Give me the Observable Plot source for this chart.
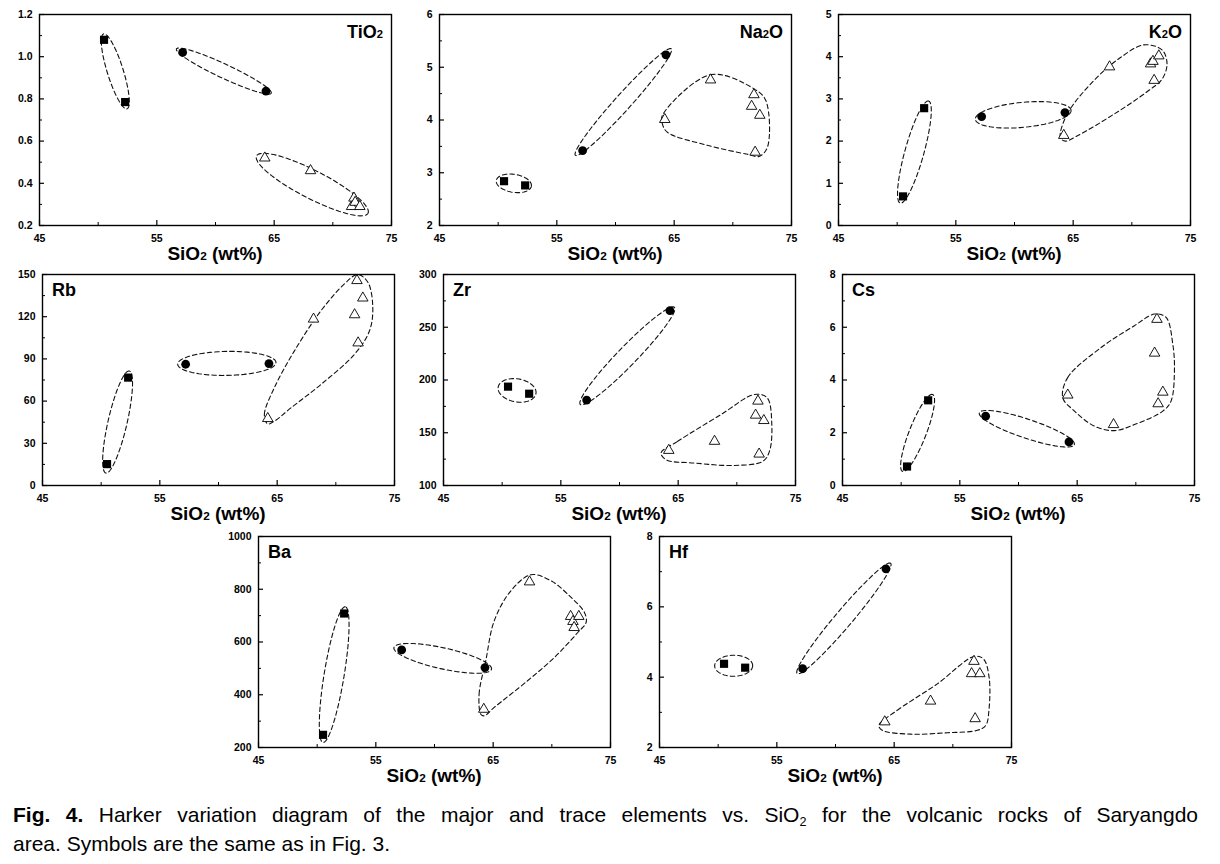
<!DOCTYPE html>
<html><head><meta charset="utf-8">
<script src="https://cdn.jsdelivr.net/npm/d3@7"></script>
<script src="https://cdn.jsdelivr.net/npm/@observablehq/plot@0.6"></script>
<style>
body{margin:0;background:#fff;}
#wrap{position:relative;width:1220px;height:864px;overflow:hidden;font-family:"Liberation Sans",Arial,Helvetica,sans-serif;color:#000;}
.panel{position:absolute;}
.xt{position:absolute;font-weight:bold;font-size:19px;line-height:19px;white-space:nowrap;transform:translateX(-50%);}
.el{position:absolute;font-weight:bold;font-size:18px;line-height:18px;white-space:nowrap;}
.sub{font-size:0.62em;vertical-align:-0.04em;}
.cap{position:absolute;left:13px;width:1185px;font-size:21px;line-height:29px;}
.cap .l1{text-align:justify;text-align-last:justify;}
.cap sub{font-size:0.6em;vertical-align:-0.3em;line-height:0;}
</style></head><body><div id="wrap"></div>
<script>
// ---- sample SiO2 (wt%) per symbol group ----
const sio2Squares = [50.5, 52.3];
const sio2Circles = [57.2, 64.3];
const sio2Triangles = [64.2, 68.1, 71.6, 71.8, 71.9, 72.3];

// ---- element values (same sample order as above) ----
const tio2Sq = [1.08, 0.785], tio2Ci = [1.02, 0.837], tio2Tr = [0.52, 0.46, 0.29, 0.33, 0.31, 0.29];
const na2oSq = [2.84, 2.76], na2oCi = [3.42, 5.235], na2oTr = [4.01, 4.76, 4.26, 4.48, 3.39, 4.09];
const k2oSq = [0.69, 2.78], k2oCi = [2.58, 2.675], k2oTr = [2.135, 3.76, 3.83, 3.89, 3.44, 4.02];
const rbSq = [15.2, 76.7], rbCi = [86.2, 86.7], rbTr = [47.6, 118.3, 121.4, 145.7, 101.4, 133.3];
const zrSq = [193.7, 187], zrCi = [181, 265.7], zrTr = [133.3, 141.9, 166.7, 180, 129.8, 161.6];
const csSq = [0.72, 3.23], csCi = [2.63, 1.65], csTr = [3.43, 2.31, 5.02, 6.30, 3.10, 3.54];
const baSq = [248, 708], baCi = [570, 503], baTr = [345, 828, 697, 678, 655, 697];
const hfSq = [4.38, 4.27], hfCi = [4.24, 7.08], hfTr = [2.73, 3.32, 4.10, 4.45, 2.82, 4.10];

// ---- axis ticks ----
const xTicks = [45, 55, 65, 75];
const xMinor = [50, 60, 70];
const tio2Ticks = [0.2, 0.4, 0.6, 0.8, 1.0, 1.2], tio2Minor = [0.3, 0.5, 0.7, 0.9, 1.1];
const na2oTicks = [2, 3, 4, 5, 6], na2oMinor = [2.5, 3.5, 4.5, 5.5];
const k2oTicks = [0, 1, 2, 3, 4, 5], k2oMinor = [0.5, 1.5, 2.5, 3.5, 4.5];
const rbTicks = [0, 30, 60, 90, 120, 150], rbMinor = [15, 45, 75, 105, 135];
const zrTicks = [100, 150, 200, 250, 300], zrMinor = [125, 175, 225, 275];
const csTicks = [0, 2, 4, 6, 8], csMinor = [1, 3, 5, 7];
const baTicks = [200, 400, 600, 800, 1000], baMinor = [300, 500, 700, 900];
const hfTicks = [2, 4, 6, 8], hfMinor = [3, 5, 7];

// ---- dashed group envelopes (data coordinates) ----
// ellipses: [tipX1, tipY1, tipX2, tipY2, halfWidth]
const tio2Ell = [[50.46,1.108,52.46,0.753,8],[56.67,1.037,64.75,0.827,7],[63.5,0.53,73.0,0.258,14]];
const na2oEll = [[49.84,2.853,52.83,2.746,9],[56.58,3.33,64.75,5.35,8]];
const k2oEll = [[50.26,0.53,52.68,2.95,9.5],[56.66,2.516,64.82,2.73,12.5]];
const rbEll = [[50.4,8.8,52.4,81.4,9.5],[56.52,86.2,64.9,87.4,12]];
const zrEll = [[49.66,193.3,52.88,187,11.5],[56.66,176.8,64.68,268.9,9.5]];
const csEll = [[50.12,0.533,52.68,3.45,8.5],[56.66,2.756,64.76,1.55,9.5]];
const baEll = [[50.5,219,52.4,733.5,10],[56.54,579,64.86,497,10.5]];
const hfEll = [[49.7,4.32,52.94,4.33,10.5],[56.73,4.1,64.7,7.24,8.5]];
// free outlines: [x, y] control points
const na2oHullX = [63.99,68.11,71.81,72.81,72.95,72.24,71.24,67.83,64.41,63.99];
const na2oHullY = [4.085,4.86,4.59,4.37,3.485,3.31,3.35,3.52,3.77,3.93];
const k2oHullX = [63.91,64.48,66.75,69.03,71.02,72.58,73.0,72.58,71.3,68.46,65.33,64.34];
const k2oHullY = [2.08,2.635,3.43,3.98,4.28,4.16,3.83,3.47,3.17,2.635,2.12,2.0];
const rbHullX = [64.19,63.91,64.76,66.47,68.74,70.73,71.87,72.73,73.15,72.87,71.59,68.74,66.18,64.76];
const rbHullY = [43.8,50.5,69.5,95.7,124.3,143.3,150,144.5,126.7,110,93.3,71.9,55.2,45.7];
const zrHullX = [63.54,64.96,68.66,71.5,72.58,72.98,72.78,72.21,69.8,66.38,63.97];
const zrHullY = [130.8,141.9,167.3,186.3,183.2,157.8,132.4,122.9,119,121.3,124.4];
const csHullX = [63.77,64.19,67.04,69.88,71.59,72.58,73.15,73.29,73.0,72.3,69.88,68.17,66.47,64.62];
const csHullY = [3.33,4.09,5.23,6.06,6.50,6.37,5.36,4.34,3.2,2.82,2.31,2.08,2.25,2.88];
const baHullX = [63.95,63.8,64.37,65.09,66.51,68.22,69.93,71.64,72.78,72.92,72.21,70.21,67.93,65.09,64.23];
const baHullY = [326,402,529,680,794,855,832,769,712,674,636,541,453,352,320];
const hfHullX = [63.7,65.27,68.68,71.81,72.61,73.09,73.09,72.81,72.1,69.53,66.4,63.98];
const hfHullY = [2.63,3.06,3.81,4.59,4.52,4.0,3.11,2.63,2.49,2.42,2.38,2.49];

const W = 352, H = 211, ML = 40, MT = 14;
const FONT = "Liberation Sans, Arial, Helvetica, sans-serif";

function ellipsePts(e, yDom, id) {
  const [x1, y1, x2, y2, b] = e;
  const px = x => (x - 45) / 30 * W, py = y => (y - yDom[0]) / (yDom[1] - yDom[0]) * H;
  const ix = p => 45 + p / W * 30, iy = p => yDom[0] + p / H * (yDom[1] - yDom[0]);
  const ax = px(x1), ay = py(y1), bx = px(x2), by = py(y2);
  const cx = (ax + bx) / 2, cy = (ay + by) / 2;
  const a = Math.hypot(bx - ax, by - ay) / 2;
  const ux = (bx - ax) / (2 * a), uy = (by - ay) / (2 * a);
  const vx = -uy, vy = ux;
  const out = [];
  for (let i = 0; i < 72; i++) {
    const t = i / 72 * 2 * Math.PI;
    const X = cx + a * Math.cos(t) * ux + b * Math.sin(t) * vx;
    const Y = cy + a * Math.cos(t) * uy + b * Math.sin(t) * vy;
    out.push({x: ix(X), y: iy(Y), id});
  }
  return out;
}

function panel(c) {
  const pts = (xs, ys) => xs.map((x, i) => ({x, y: ys[i]}));
  const ell = c.ell.flatMap((e, i) => ellipsePts(e, c.yDom, "e" + i));
  const hull = c.hullX ? c.hullX.map((x, i) => ({x, y: c.hullY[i], id: "h"})) : [];
  const fmt = c.fmt || (d => String(d));
  const dash = {stroke: "#111", strokeWidth: 1.1, strokeDasharray: "4.5,3", clip: true};
  return Plot.plot({
    width: W + ML + 8, height: H + MT + 45,
    marginLeft: ML, marginRight: 8, marginTop: MT, marginBottom: 45,
    x: {domain: [45, 75]}, y: {domain: c.yDom},
    style: {fontFamily: FONT, background: "transparent", overflow: "visible", color: "black"},
    marks: [
      Plot.line(ell, {x: "x", y: "y", z: "id", curve: "linear-closed", ...dash}),
      Plot.line(hull, {x: "x", y: "y", z: "id", curve: "catmull-rom-closed", ...dash}),
      Plot.dot(pts(sio2Squares, c.sq), {x: "x", y: "y", symbol: "square", r: 4.6, fill: "black"}),
      Plot.dot(pts(sio2Circles, c.ci), {x: "x", y: "y", symbol: "circle", r: 4.4, fill: "black"}),
      Plot.dot(pts(sio2Triangles, c.tr), {x: "x", y: "y", symbol: "triangle", r: 3.9, fill: "white", stroke: "black", strokeWidth: 0.9}),
      Plot.axisX(xTicks, {tickSize: -5, tickFormat: () => "", label: null, strokeWidth: 1.2}),
      Plot.axisX(xMinor, {tickSize: -3, tickFormat: () => "", label: null, strokeWidth: 1}),
      Plot.axisX(xTicks, {tickSize: 0, tickPadding: 9, fontSize: 10.5, fontWeight: "bold", label: null}),
      Plot.axisY(c.ticks, {tickSize: -5, tickFormat: () => "", label: null, strokeWidth: 1.2}),
      Plot.axisY(c.minor, {tickSize: -3, tickFormat: () => "", label: null, strokeWidth: 1}),
      Plot.axisY(c.ticks, {tickSize: 0, tickPadding: 7, tickFormat: fmt, fontSize: 10.5, fontWeight: "bold", label: null}),
      Plot.frame({stroke: "black", strokeWidth: 1.4})
    ]
  });
}

const f1 = d3.format(".1f");
const panels = [
  {name: "TiO<span class='sub'>2</span>", right: true, fx: 39, fy: 14, yDom: [0.2, 1.2], ticks: tio2Ticks, minor: tio2Minor, fmt: f1, sq: tio2Sq, ci: tio2Ci, tr: tio2Tr, ell: tio2Ell},
  {name: "Na<span class='sub'>2</span>O", right: true, fx: 439, fy: 14, yDom: [2, 6], ticks: na2oTicks, minor: na2oMinor, sq: na2oSq, ci: na2oCi, tr: na2oTr, ell: na2oEll, hullX: na2oHullX, hullY: na2oHullY},
  {name: "K<span class='sub'>2</span>O", right: true, fx: 838, fy: 14, yDom: [0, 5], ticks: k2oTicks, minor: k2oMinor, sq: k2oSq, ci: k2oCi, tr: k2oTr, ell: k2oEll, hullX: k2oHullX, hullY: k2oHullY},
  {name: "Rb", fx: 42, fy: 274, yDom: [0, 150], ticks: rbTicks, minor: rbMinor, sq: rbSq, ci: rbCi, tr: rbTr, ell: rbEll, hullX: rbHullX, hullY: rbHullY},
  {name: "Zr", fx: 443, fy: 274, yDom: [100, 300], ticks: zrTicks, minor: zrMinor, sq: zrSq, ci: zrCi, tr: zrTr, ell: zrEll, hullX: zrHullX, hullY: zrHullY},
  {name: "Cs", fx: 842, fy: 274, yDom: [0, 8], ticks: csTicks, minor: csMinor, sq: csSq, ci: csCi, tr: csTr, ell: csEll, hullX: csHullX, hullY: csHullY},
  {name: "Ba", fx: 258, fy: 536, yDom: [200, 1000], ticks: baTicks, minor: baMinor, sq: baSq, ci: baCi, tr: baTr, ell: baEll, hullX: baHullX, hullY: baHullY},
  {name: "Hf", fx: 659, fy: 536, yDom: [2, 8], ticks: hfTicks, minor: hfMinor, sq: hfSq, ci: hfCi, tr: hfTr, ell: hfEll, hullX: hfHullX, hullY: hfHullY}
];

const wrap = document.getElementById("wrap");
for (const c of panels) {
  const svg = panel(c);
  const d = document.createElement("div");
  d.className = "panel";
  d.style.left = (c.fx - ML) + "px";
  d.style.top = (c.fy - MT) + "px";
  d.appendChild(svg);
  wrap.appendChild(d);
  const xt = document.createElement("div");
  xt.className = "xt";
  xt.innerHTML = "SiO<span class='sub'>2</span> (wt%)";
  xt.style.left = (c.fx + W / 2) + "px";
  xt.style.top = (c.fy + H + 19) + "px";
  wrap.appendChild(xt);
  const el = document.createElement("div");
  el.className = "el";
  el.innerHTML = c.name;
  if (c.right) {
    el.style.left = (c.fx + W - 8) + "px";
    el.style.transform = "translateX(-100%)";
    el.style.top = (c.fy + 9) + "px";
  } else {
    el.style.left = (c.fx + 10) + "px";
    el.style.top = (c.fy + 7) + "px";
  }
  wrap.appendChild(el);
}
const cap = document.createElement("div");
cap.className = "cap";
cap.style.top = "800px";
cap.innerHTML = "<div class='l1'><b>Fig. 4.</b> Harker variation diagram of the major and trace elements vs. SiO<sub>2</sub> for the volcanic rocks of Saryangdo</div><div>area. Symbols are the same as in Fig. 3.</div>";
wrap.appendChild(cap);
</script>
</body></html>
